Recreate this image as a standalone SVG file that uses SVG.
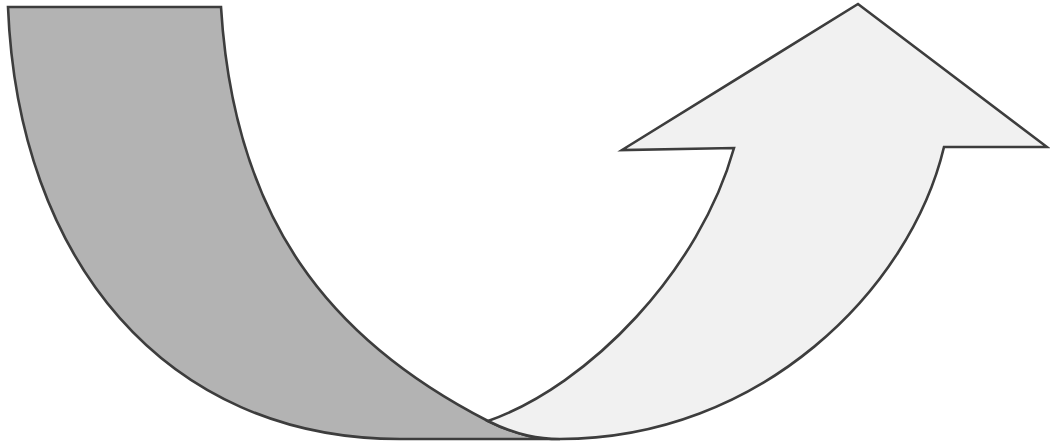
<svg xmlns="http://www.w3.org/2000/svg" width="1050" height="442" viewBox="0 0 1050 442">
  <style>
    .shape { stroke: #3d3d3d; stroke-width: 2.6; stroke-linejoin: miter; }
    .dark { fill: #b3b3b3; }
    .light { fill: #f1f1f1; }
  </style>
  <rect width="1050" height="442" fill="#ffffff"/>
  <g id="dark-band">
    <path class="shape dark" d="M8,7 L221,7 C234,220 330,340 488,421 C518,436 540,439 560,439 L400,439 C165,439 18,260 8,7 Z"/>
  </g>
  <g id="light-arrow">
    <path class="shape light" d="M488,421 C590,385 700,270 734,148 L622,150 L858,4 L1047,147 L944,147 C910,290 760,439 560,439 C540,439 518,436 488,421 Z"/>
  </g>
  <g id="connectors"></g>
</svg>
